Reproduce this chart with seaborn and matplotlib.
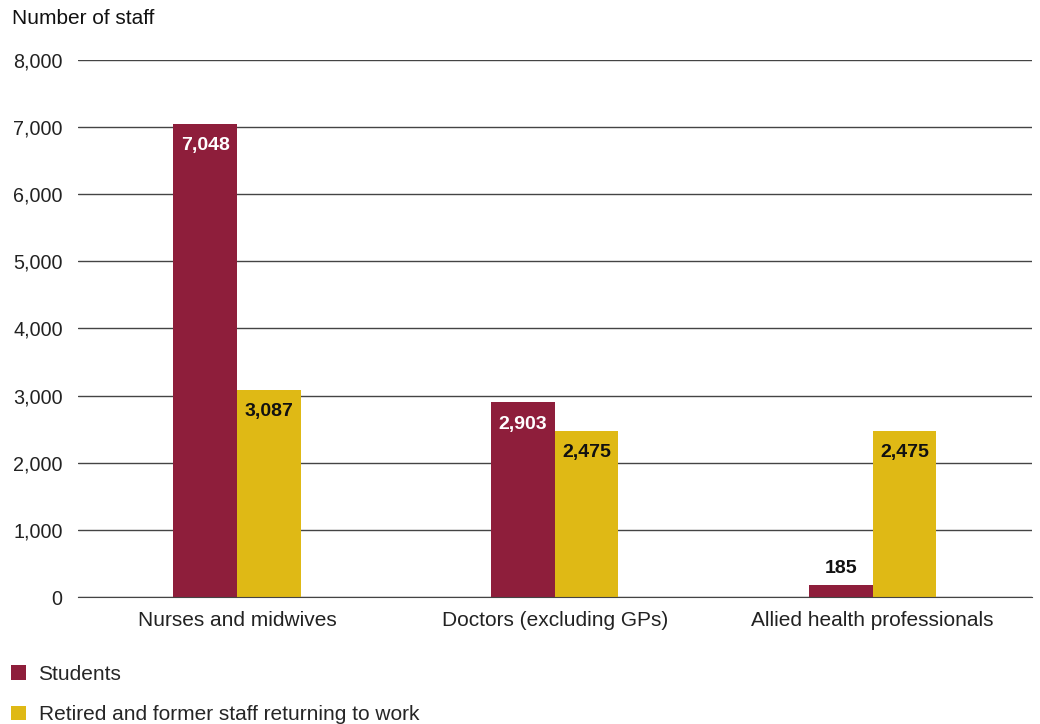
import seaborn as sns
import matplotlib.pyplot as plt
import pandas as pd
from matplotlib.patches import Patch

# data
categories = ['Nurses and midwives', 'Doctors (excluding GPs)', 'Allied health professionals']
students = [7048, 2903, 185]
returners = [3087, 2475, 2475]
series = ['Students', 'Retired and former staff returning to work']
colors = ['#8E1E3B', '#DFB915']

df = pd.DataFrame({
    'category': categories * 2,
    'group': [series[0]] * 3 + [series[1]] * 3,
    'value': students + returners,
})

sns.set_style('white')
plt.rcParams['font.family'] = ['Liberation Sans', 'DejaVu Sans']

fig = plt.figure(figsize=(10.4, 7.24), dpi=100)
ax = fig.add_axes([0.075, 0.1754, 0.917, 0.7418])

sns.barplot(data=df, x='category', y='value', hue='group', hue_order=series,
            palette=colors, width=0.4, saturation=1, linewidth=0,
            ax=ax, legend=False)

ax.set_ylim(0, 8000)
ax.set_xlim(-0.5, 2.5)
ax.set_yticks(range(0, 8001, 1000))
ax.set_yticklabels([f'{v:,}' for v in range(0, 8001, 1000)])
ax.yaxis.grid(True, color='#444444', linewidth=1.0)
ax.set_axisbelow(True)
for s in ['top', 'right', 'left']:
    ax.spines[s].set_visible(False)
ax.spines['bottom'].set_color('#444444')
ax.tick_params(axis='both', length=0, labelcolor='#222222')
ax.tick_params(axis='x', pad=10, labelsize=15)
ax.tick_params(axis='y', pad=11, labelsize=14.2)
ax.set_xlabel('')
ax.set_ylabel('')

# value labels
for i, cont in enumerate(ax.containers):
    for bar, v in zip(cont, [students, returners][i]):
        x = bar.get_x() + bar.get_width() / 2
        if v < 600:
            ax.text(x, v + 120, f'{v:,}', ha='center', va='bottom',
                    fontsize=14, fontweight='bold', color='#111111')
        else:
            ax.text(x, v - 200, f'{v:,}', ha='center', va='top',
                    fontsize=14, fontweight='bold',
                    color='white' if i == 0 else '#111111')

fig.text(12 / 1040, 1 - 18 / 724, 'Number of staff', fontsize=15,
         va='center', ha='left', color='#111111')

handles = [Patch(facecolor=c, edgecolor='none') for c in colors]
fig.legend(handles, series, loc='upper left', bbox_to_anchor=(-0.003, 1 - 650 / 724),
           frameon=False, fontsize=15, handlelength=0.7, handleheight=0.7,
           handletextpad=0.6, labelspacing=1.05, borderaxespad=0.3)

fig.savefig('out.png', dpi=100)
